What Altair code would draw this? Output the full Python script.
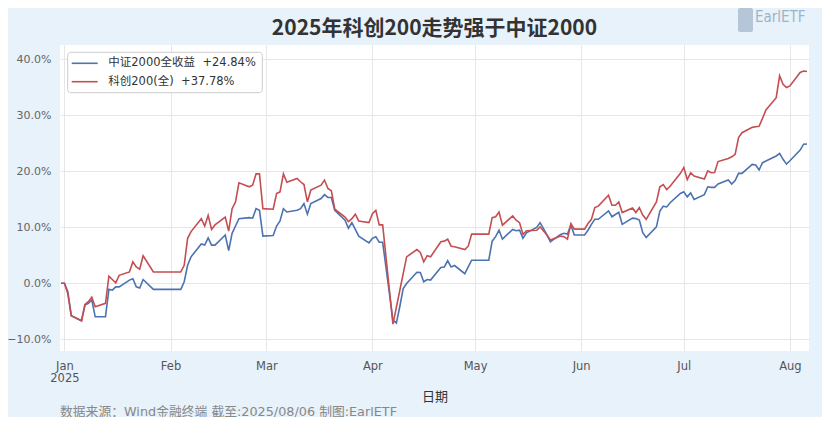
import altair as alt
import pandas as pd

# ---------------- data ----------------
dates = (
    ["2024-12-31", "2025-01-01", "2025-01-02", "2025-01-03", "2025-01-06", "2025-01-07", "2025-01-08",
     "2025-01-09", "2025-01-10", "2025-01-13", "2025-01-14", "2025-01-15", "2025-01-16", "2025-01-17",
     "2025-01-20", "2025-01-21", "2025-01-22", "2025-01-23", "2025-01-24", "2025-01-27", "2025-01-28",
     "2025-01-29", "2025-01-30", "2025-01-31"]
    + ["2025-02-03", "2025-02-04", "2025-02-05", "2025-02-06", "2025-02-07", "2025-02-10", "2025-02-11",
       "2025-02-12", "2025-02-13", "2025-02-14", "2025-02-17", "2025-02-18", "2025-02-19", "2025-02-20",
       "2025-02-21", "2025-02-24", "2025-02-25", "2025-02-26", "2025-02-27", "2025-02-28"]
    + ["2025-03-03", "2025-03-04", "2025-03-05", "2025-03-06", "2025-03-07", "2025-03-10", "2025-03-11",
       "2025-03-12", "2025-03-13", "2025-03-14", "2025-03-17", "2025-03-18", "2025-03-19", "2025-03-20",
       "2025-03-21", "2025-03-24", "2025-03-25", "2025-03-26", "2025-03-27", "2025-03-28", "2025-03-31"]
    + ["2025-04-01", "2025-04-02", "2025-04-03", "2025-04-04", "2025-04-07", "2025-04-08", "2025-04-09",
       "2025-04-10", "2025-04-11", "2025-04-14", "2025-04-15", "2025-04-16", "2025-04-17", "2025-04-18",
       "2025-04-21", "2025-04-22", "2025-04-23", "2025-04-24", "2025-04-25", "2025-04-28", "2025-04-29",
       "2025-04-30"]
    + ["2025-05-01", "2025-05-02", "2025-05-05", "2025-05-06", "2025-05-07", "2025-05-08", "2025-05-09",
       "2025-05-12", "2025-05-13", "2025-05-14", "2025-05-15", "2025-05-16", "2025-05-19", "2025-05-20",
       "2025-05-21", "2025-05-22", "2025-05-23", "2025-05-26", "2025-05-27", "2025-05-28", "2025-05-29",
       "2025-05-30"]
    + ["2025-06-02", "2025-06-03", "2025-06-04", "2025-06-05", "2025-06-06", "2025-06-09", "2025-06-10",
       "2025-06-11", "2025-06-12", "2025-06-13", "2025-06-16", "2025-06-17", "2025-06-18", "2025-06-19",
       "2025-06-20", "2025-06-23", "2025-06-24", "2025-06-25", "2025-06-26", "2025-06-27", "2025-06-30"]
    + ["2025-07-01", "2025-07-02", "2025-07-03", "2025-07-04", "2025-07-07", "2025-07-08", "2025-07-09",
       "2025-07-10", "2025-07-11", "2025-07-14", "2025-07-15", "2025-07-16", "2025-07-17", "2025-07-18",
       "2025-07-21", "2025-07-22", "2025-07-23", "2025-07-24", "2025-07-25", "2025-07-28", "2025-07-29",
       "2025-07-30", "2025-07-31"]
    + ["2025-08-01", "2025-08-04", "2025-08-05", "2025-08-06"]
)

csi2000 = (
    [0, 0, -1.5, -5.8, -6.7, -3.9, -3.6, -3.0, -6.0, -6.0, -1.1, -1.25, -0.65, -0.65,
     0.55, 0.8, -0.65, -0.85, 0.65, -1.1, -1.1, -1.1, -1.1, -1.1]
    + [-1.1, -1.1, 0.25, 3.2, 4.7, 7.0, 6.8, 8.1, 6.8, 6.8, 8.6, 5.8, 8.9, 10.2,
       11.5, 11.7, 11.6, 13.3, 13.0, 8.4]
    + [8.5, 10.2, 11.1, 13.3, 12.7, 13.0, 13.3, 14.2, 12.3, 14.2, 15.1, 15.8, 15.3, 15.3,
       13.0, 11.25, 9.8, 10.8, 9.6, 8.4, 7.2]
    + [8.0, 8.3, 7.3, 7.3, -6.6, -7.1, -4.2, -0.95, -0.05, 1.95, 1.9, 0.25, 0.65, 0.55,
       2.8, 2.9, 4.0, 2.9, 3.15, 1.7, 2.9, 4.1]
    + [4.1, 4.1, 4.1, 7.5, 8.3, 9.45, 7.85, 9.6, 9.35, 9.45, 8.0, 9.0, 9.95, 10.8,
       9.75, 8.6, 7.4, 8.7, 8.9, 8.75, 10.35, 8.6]
    + [8.6, 9.45, 10.5, 11.4, 11.4, 12.9, 11.85, 12.25, 12.65, 10.5, 11.6, 11.55, 11.25, 9.0,
       8.15, 10.05, 12.85, 13.75, 13.6, 14.35, 16.0]
    + [16.3, 15.4, 16.1, 14.95, 15.8, 17.2, 17.1, 17.1, 17.7, 18.4, 17.7, 18.3, 19.6, 19.6,
       21.2, 21.1, 20.2, 21.5, 21.8, 22.7, 23.15, 22.1, 21.25]
    + [21.85, 23.75, 24.8, 24.84]
)

star200 = (
    [0, 0, -1.9, -5.8, -6.7, -3.8, -3.3, -2.5, -4.2, -3.6, 1.25, 0.65, 0.05, 1.4,
     2.0, 3.8, 2.9, 2.5, 4.9, 2.0, 2.0, 2.0, 2.0, 2.0]
    + [2.0, 2.0, 3.2, 8.0, 9.2, 11.5, 10.2, 12.1, 9.6, 10.4, 11.8, 9.3, 13.3, 14.5,
       17.9, 17.2, 17.5, 19.5, 19.5, 13.3]
    + [13.2, 16.0, 16.3, 19.5, 18.0, 18.7, 18.1, 17.6, 14.5, 16.6, 17.5, 18.4, 16.9, 16.5,
       13.2, 11.8, 11.0, 11.5, 12.3, 11.1, 10.8]
    + [12.4, 13.0, 10.4, 10.4, -7.3, -4.3, -1.3, 1.7, 4.7, 6.0, 5.5, 3.8, 4.9, 4.7,
       7.4, 7.5, 7.85, 6.6, 6.5, 6.0, 6.6, 8.75]
    + [8.75, 8.75, 8.75, 11.7, 11.85, 12.7, 10.35, 12.0, 11.25, 10.8, 8.7, 9.35, 9.45, 10.05,
       9.3, 8.6, 7.7, 8.4, 8.3, 7.85, 10.65, 9.65]
    + [9.65, 10.65, 11.4, 13.5, 13.75, 15.7, 13.9, 13.9, 14.5, 12.6, 13.4, 12.6, 13.5, 12.15,
       11.4, 14.5, 17.2, 17.6, 16.7, 17.3, 19.6]
    + [20.65, 18.5, 19.7, 19.1, 18.6, 20.05, 19.7, 19.75, 21.7, 22.25, 22.55, 23.0, 26.0, 26.85,
       27.8, 27.9, 28.0, 29.4, 30.9, 33.1, 37.0, 35.5, 34.9]
    + [35.2, 37.6, 37.85, 37.78]
)

series_names = ["中证2000全收益\u00a0\u00a0+24.84%", "科创200(全)\u00a0\u00a0+37.78%"]
series_colors = ["#4C72B0", "#C44E52"]
y_ticks = [-10, 0, 10, 20, 30, 40]
month_ticks = [1, 2, 3, 4, 5, 6, 7, 8]

title_text = "2025年科创200走势强于中证2000"
footer_text = "数据来源：Wind金融终端 截至:2025/08/06 制图:EarlETF"
logo_text = "EarlETF"
x_title = "日期"

# ---------------- build table ----------------
df = pd.DataFrame({"date": pd.to_datetime(dates),
                   series_names[0]: csi2000,
                   series_names[1]: star200})
long = df.melt(id_vars="date", var_name="series", value_name="value")

CJK = "Noto Sans CJK SC"
MIX = "DejaVu Sans, Noto Sans CJK SC"
AXF = "DejaVu Sans"

x_enc = alt.X(
    "date:T",
    scale=alt.Scale(
        type="time",
        domain=[alt.DateTime(year=2024, month=12, date=30, hours=17),
                alt.DateTime(year=2025, month=8, date=6, hours=14)],
        nice=False,
    ),
    axis=alt.Axis(
        values=[alt.DateTime(year=2025, month=m, date=1) for m in month_ticks],
        labelExpr="month(datum.value) == 0 ? [timeFormat(datum.value, '%b'), timeFormat(datum.value, '%Y')] : timeFormat(datum.value, '%b')",
        labelFont=AXF, labelFontSize=11.5, labelColor="#555555",
        labelPadding=9, labelLineHeight=12.6, labelFlush=False,
        ticks=False, domain=False, grid=True, gridColor="#e6e6e6",
        title=x_title, titleFont=CJK, titleFontSize=13, titleFontWeight="normal",
        titleColor="#333333", titlePadding=6,
    ),
)

y_enc = alt.Y(
    "value:Q",
    scale=alt.Scale(domain=[-12.1, 42.5], nice=False, zero=False),
    axis=alt.Axis(
        values=y_ticks,
        labelExpr="format(datum.value, '.1f') + '%'",
        labelFont=AXF, labelFontSize=11, labelColor="#666666",
        labelPadding=9, ticks=False, domain=False, grid=True, gridColor="#e6e6e6",
        title=None,
    ),
)

lines = alt.Chart(long).mark_line(strokeWidth=1.6).encode(
    x=x_enc,
    y=y_enc,
    color=alt.Color("series:N", scale=alt.Scale(domain=series_names, range=series_colors), legend=None),
    detail="series:N",
)

# ---------------- legend (drawn) ----------------
legend_box = alt.Chart(pd.DataFrame({"k": [0]})).mark_rect(
    fill="white", stroke="#cccccc", strokeWidth=1, cornerRadius=3
).encode(x=alt.value(7.7), x2=alt.value(202.3), y=alt.value(7.3), y2=alt.value(47.7))

legend_layers = []
for i, (name, col) in enumerate(zip(series_names, series_colors)):
    yy = 18.3 + i * 18.4
    one = pd.DataFrame({"name": [name]})
    legend_layers.append(
        alt.Chart(one).mark_rule(color=col, strokeWidth=1.6).encode(
            x=alt.value(11.7), x2=alt.value(37.7), y=alt.value(yy))
    )
    legend_layers.append(
        alt.Chart(one).mark_text(align="left", baseline="middle", font=MIX, fontSize=11.5,
                                 color="#333333").encode(
            x=alt.value(48.3), y=alt.value(yy), text="name:N")
    )

# ---------------- title, footer, logo ----------------
title = alt.Chart(pd.DataFrame({"t": [title_text]})).mark_text(
    align="center", baseline="alphabetic", font=CJK, fontSize=21, fontWeight="bold", color="#333333"
).encode(x=alt.value(374.5), y=alt.value(-10.5), text="t:N")

footer = alt.Chart(pd.DataFrame({"t": [footer_text]})).mark_text(
    align="left", baseline="middle", font=MIX, fontSize=12.8, color="#888888"
).encode(x=alt.value(0), y=alt.value(366.5), text="t:N")

logo_icon = alt.Chart(pd.DataFrame({"k": [0]})).mark_rect(
    fill="#b4c6d8", cornerRadius=2
).encode(x=alt.value(678), x2=alt.value(693), y=alt.value(-37), y2=alt.value(-13))

logo = alt.Chart(pd.DataFrame({"t": [logo_text]})).mark_text(
    align="left", baseline="alphabetic", font="DejaVu Sans Condensed, Liberation Sans Narrow, DejaVu Sans",
    fontSize=15, color="#9fb2c6"
).encode(x=alt.value(695), y=alt.value(-23), text="t:N")

chart = alt.layer(
    lines, legend_box, *legend_layers, title, footer, logo_icon, logo
).properties(
    width=749,
    height=306,
    background="#e8f2fb",
    padding={"left": 52, "top": 37, "right": 13, "bottom": 66},
    autosize=alt.AutoSizeParams(type="none"),
).configure_view(
    stroke=None, fill="white"
)

chart.save("out.html", embed_options={"renderer": "svg", "actions": False})
